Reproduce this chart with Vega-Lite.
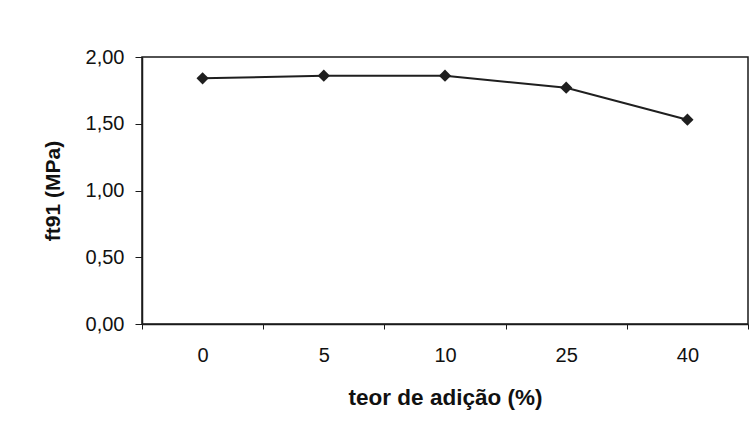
{
  "$schema": "https://vega.github.io/schema/vega-lite/v6.json",
  "autosize": {"type": "none"},
  "padding": {"left": 142, "top": 57, "right": 7, "bottom": 115},
  "width": 606,
  "height": 267,
  "background": "white",
  "config": {
    "view": {"stroke": "#1a1a1a", "strokeWidth": 1.5},
    "font": "Liberation Sans"
  },
  "data": {
    "values": [
      {"teor": "0", "ft91": 1.84},
      {"teor": "5", "ft91": 1.86},
      {"teor": "10", "ft91": 1.86},
      {"teor": "25", "ft91": 1.77},
      {"teor": "40", "ft91": 1.53}
    ]
  },
  "encoding": {
    "x": {
      "field": "teor",
      "type": "ordinal",
      "sort": null,
      "bandPosition": 0.5,
      "scale": {"type": "band", "paddingInner": 0, "paddingOuter": 0},
      "axis": {
        "title": "teor de adição (%)",
        "titleFont": "Liberation Sans",
        "titleFontSize": 22.5,
        "titleFontWeight": "bold",
        "titleColor": "#111",
        "titlePadding": 21,
        "labelFont": "Liberation Sans",
        "labelFontSize": 20,
        "labelColor": "#111",
        "labelAngle": 0,
        "labelPadding": 16,
        "tickBand": "extent",
        "tickSize": 5,
        "tickColor": "#1a1a1a",
        "domainColor": "#1a1a1a",
        "domainWidth": 1.5,
        "grid": false
      }
    },
    "y": {
      "field": "ft91",
      "type": "quantitative",
      "scale": {"domain": [0, 2], "nice": false},
      "axis": {
        "title": "ft91 (MPa)",
        "titleFont": "Liberation Sans",
        "titleFontSize": 21,
        "titleFontWeight": "bold",
        "titleColor": "#111",
        "titlePadding": 22,
        "values": [0, 0.5, 1, 1.5, 2],
        "labelExpr": "replace(format(datum.value, '.2f'), '.', ',')",
        "labelFont": "Liberation Sans",
        "labelFontSize": 20,
        "labelColor": "#111",
        "labelPadding": 11,
        "tickSize": 7,
        "tickColor": "#1a1a1a",
        "domainColor": "#1a1a1a",
        "domainWidth": 1.5,
        "grid": false
      }
    }
  },
  "layer": [
    {"mark": {"type": "line", "color": "#1f1f1f", "strokeWidth": 2}},
    {"mark": {"type": "point", "shape": "diamond", "filled": true, "color": "#1f1f1f", "size": 150, "opacity": 1}}
  ]
}
